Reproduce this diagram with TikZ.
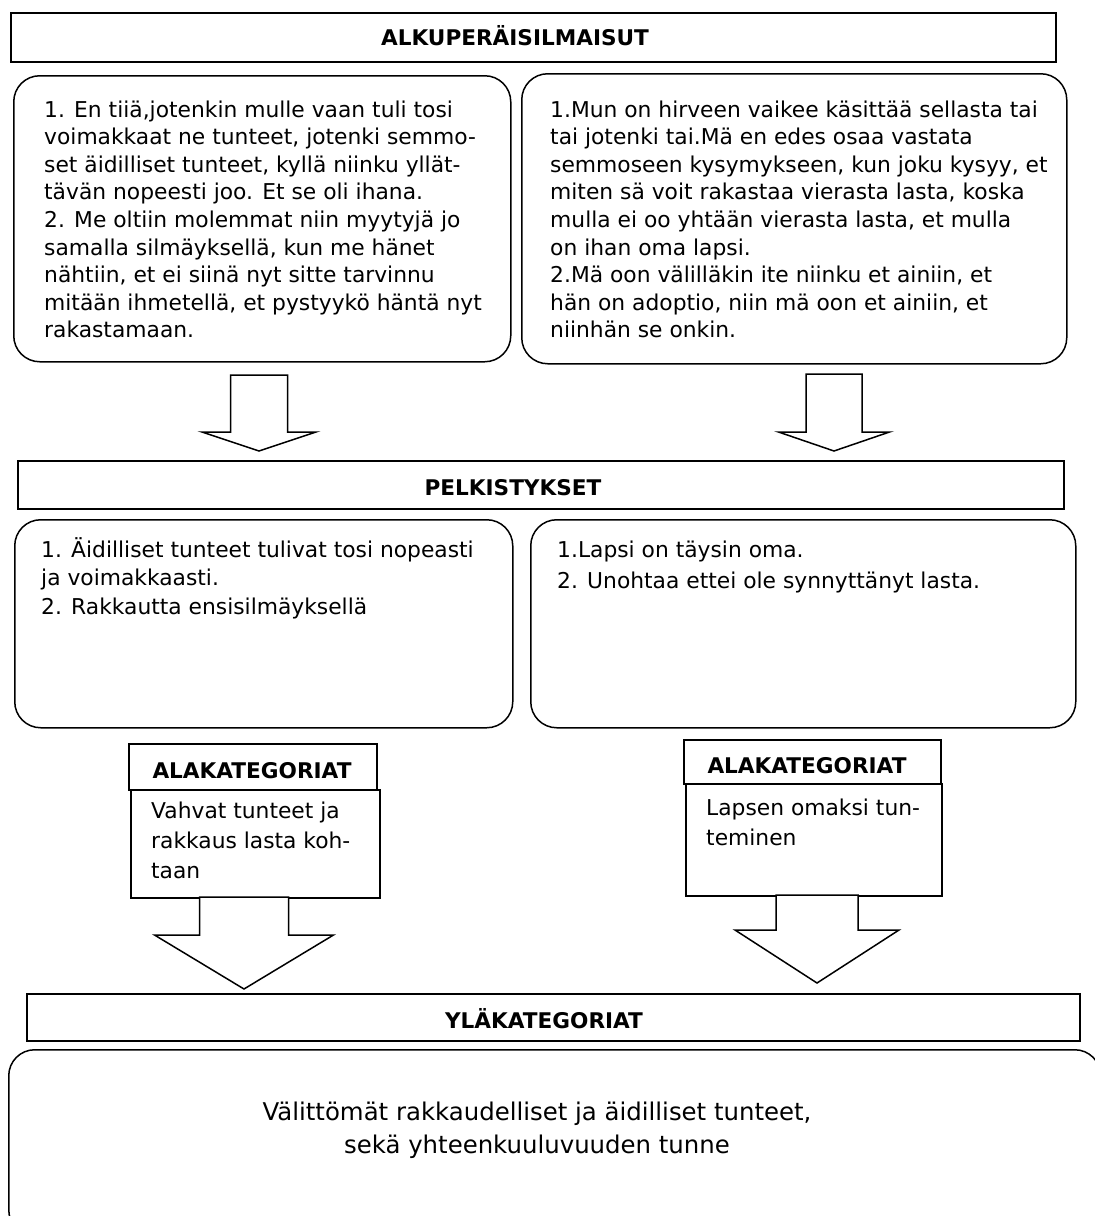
\documentclass[tikz,border=0pt]{standalone}
\usepackage{fontspec}
\setmainfont{DejaVu Sans}
\usetikzlibrary{positioning}

\tikzset{
  hdrbox/.style={draw, line width=1.5pt, rectangle, inner sep=0pt, anchor=north west},
  roundbox/.style={draw, line width=1.5pt, rectangle, rounded corners=26pt, inner sep=0pt, anchor=north west},
  hdrtext/.style={anchor=base, inner sep=0pt, font=\fontsize{21.6}{26}\selectfont\bfseries},
  bodytext/.style={anchor=base west, align=left, inner sep=0pt, font=\fontsize{21.8}{27.6}\selectfont},
  blockarr/.style={draw, line width=1.5pt, fill=white, line join=miter}
}

\begin{document}
\begin{tikzpicture}[x=1pt,y=-1pt]
\useasboundingbox (0,0) rectangle (1095,1216);
\clip (0,0) rectangle (1095,1216);

% alkuperaisilmaisut (text nodes sit on the baseline of their last line)
\node[hdrbox, minimum width=1045pt, minimum height=49pt] (alkuhdr) at (10,12) {};
\node[hdrtext] (alkutxt) at (515,45) {ALKUPERÄISILMAISUT};
\node[roundbox, minimum width=497pt, minimum height=286pt] (origL) at (13,75) {};
\node[bodytext] (origLtxt) at (44,117+8*27.6) {1. En tiiä,jotenkin mulle vaan tuli tosi\\
voimakkaat ne tunteet, jotenki semmo-\\
set äidilliset tunteet, kyllä niinku yllät-\\
tävän nopeesti joo. Et se oli ihana.\\
2. Me oltiin molemmat niin myytyjä jo\\
samalla silmäyksellä, kun me hänet\\
nähtiin, et ei siinä nyt sitte tarvinnu\\
mitään ihmetellä, et pystyykö häntä nyt\\
rakastamaan.};
\node[roundbox, minimum width=545pt, minimum height=290pt] (origR) at (521,73) {};
\node[bodytext] (origRtxt) at (550,117+8*27.6) {1.Mun on hirveen vaikee käsittää sellasta tai\\
tai jotenki tai.Mä en edes osaa vastata\\
semmoseen kysymykseen, kun joku kysyy, et\\
miten sä voit rakastaa vierasta lasta, koska\\
mulla ei oo yhtään vierasta lasta, et mulla\\
on ihan oma lapsi.\\
2.Mä oon välilläkin ite niinku et ainiin, et\\
hän on adoptio, niin mä oon et ainiin, et\\
niinhän se onkin.};

\draw[blockarr] (259-28.5,375) -- (259+28.5,375) -- (259+28.5,432) -- (259+57,432) -- (259,451) -- (259-57,432) -- (259-28.5,432) -- cycle;
\draw[blockarr] (834-28,374) -- (834+28,374) -- (834+28,432) -- (834+55.5,432) -- (834,451) -- (834-55.5,432) -- (834-28,432) -- cycle;

% pelkistykset
\node[hdrbox, minimum width=1046pt, minimum height=48pt] (pelkhdr) at (17,460) {};
\node[hdrtext] (pelktxt) at (513,495) {PELKISTYKSET};
\node[roundbox, minimum width=498pt, minimum height=208pt] (pelkL) at (14,519) {};
\node[bodytext, font=\fontsize{21.8}{28.6}\selectfont] (pelkLtxt) at (41,557+2*28.6) {1. Äidilliset tunteet tulivat tosi nopeasti\\
ja voimakkaasti.\\
2. Rakkautta ensisilmäyksellä};
\node[roundbox, minimum width=545pt, minimum height=208pt] (pelkR) at (530,519) {};
\node[bodytext, font=\fontsize{21.8}{31}\selectfont] (pelkRtxt) at (557,557+31) {1.Lapsi on täysin oma.\\
2. Unohtaa ettei ole synnyttänyt lasta.};

% alakategoriat
\node[hdrbox, minimum width=248pt, minimum height=46pt] (alakLhdr) at (128,743) {};
\node[hdrtext] (alakLtxt) at (252,778) {ALAKATEGORIAT};
\node[hdrbox, minimum width=249pt, minimum height=108pt] (alakLbox) at (130,789) {};
\node[bodytext, font=\fontsize{21.8}{30}\selectfont] (alakLbody) at (151,818+2*30) {Vahvat tunteet ja\\
rakkaus lasta koh-\\
taan};
\node[hdrbox, minimum width=257pt, minimum height=44pt] (alakRhdr) at (683,739) {};
\node[hdrtext] (alakRtxt) at (807,773) {ALAKATEGORIAT};
\node[hdrbox, minimum width=256pt, minimum height=112pt] (alakRbox) at (685,783) {};
\node[bodytext, font=\fontsize{21.8}{30}\selectfont] (alakRbody) at (706,815+30) {Lapsen omaksi tun-\\
teminen};

\draw[blockarr] (244-44.5,897) -- (244+44.5,897) -- (244+44.5,935) -- (244+89.5,935) -- (244,989) -- (244-89.5,935) -- (244-44.5,935) -- cycle;
\draw[blockarr] (817-41,895) -- (817+41,895) -- (817+41,930) -- (817+82,930) -- (817,983) -- (817-82,930) -- (817-41,930) -- cycle;

% ylakategoriat
\node[hdrbox, minimum width=1053pt, minimum height=47pt] (ylahdr) at (26,993) {};
\node[hdrtext] (ylatxt) at (544,1028) {YLÄKATEGORIAT};
\node[roundbox, minimum width=1092pt, minimum height=186pt] (ylabox) at (8,1049) {};
\node[anchor=base, align=center, inner sep=0pt, font=\fontsize{24.4}{33}\selectfont] (ylabody) at (537,1153) {Välittömät rakkaudelliset ja äidilliset tunteet,\\
sekä yhteenkuuluvuuden tunne};

\end{tikzpicture}
\end{document}
